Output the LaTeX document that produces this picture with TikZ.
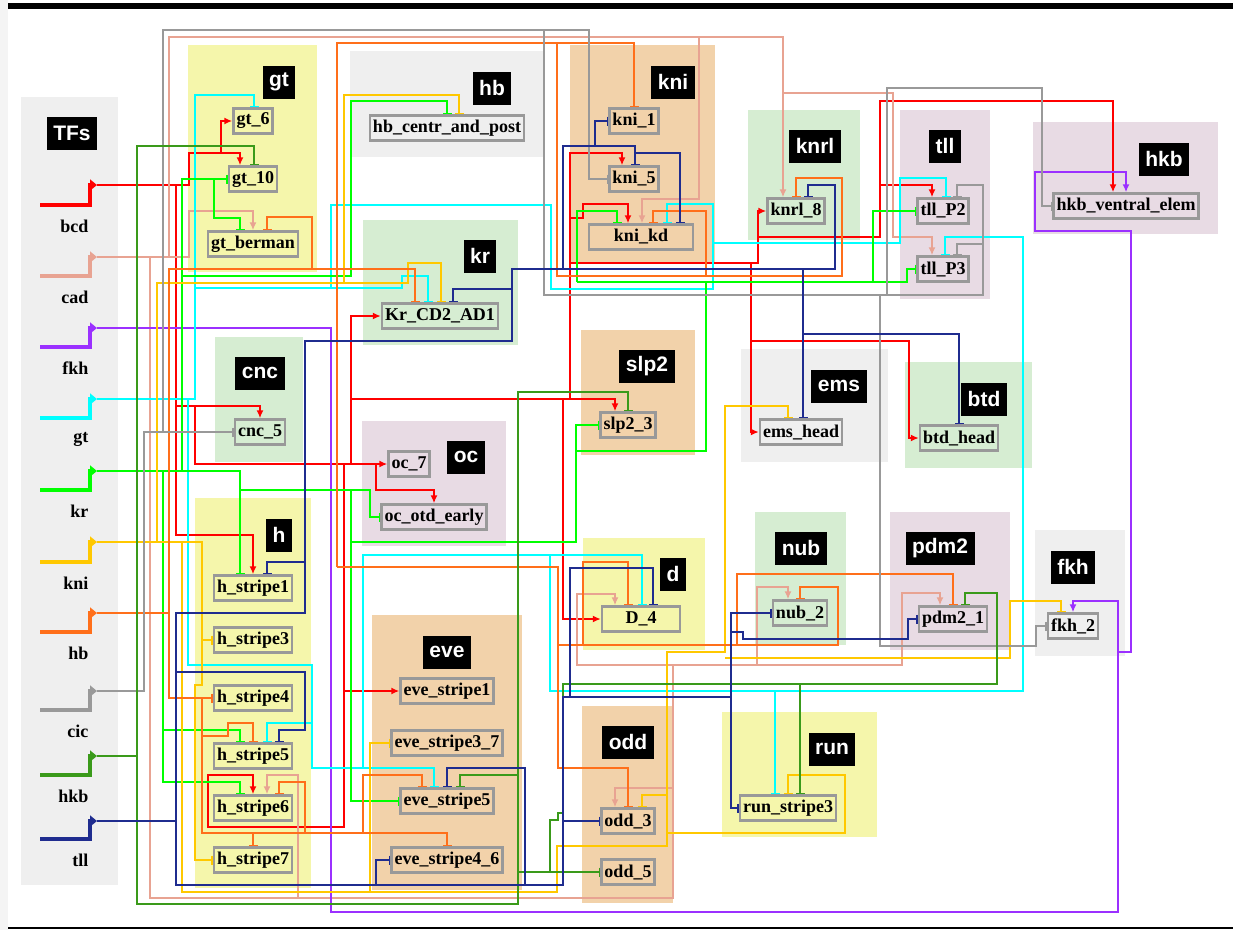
\documentclass[tikz,border=0pt]{standalone}
\usepackage{fontspec}
\setmainfont{Liberation Serif}
\newfontfamily\tagfont{Liberation Sans}
\usetikzlibrary{arrows.meta}
\definecolor{cbcd}{HTML}{FF0000}
\definecolor{ccad}{HTML}{E8A392}
\definecolor{cfkh}{HTML}{9B30FF}
\definecolor{cgt}{HTML}{00FFFF}
\definecolor{ckr}{HTML}{00FF00}
\definecolor{ckni}{HTML}{FFC800}
\definecolor{chb}{HTML}{FF6F1A}
\definecolor{ccic}{HTML}{999999}
\definecolor{chkb}{HTML}{3A9A1A}
\definecolor{ctll}{HTML}{1F2C8F}
\definecolor{boxgray}{HTML}{999999}
\definecolor{cyel}{HTML}{F5F6AB}
\definecolor{cpea}{HTML}{F2D2AA}
\definecolor{cgrn}{HTML}{D6EDD2}
\definecolor{cmau}{HTML}{E8DBE4}
\definecolor{cgry}{HTML}{EFEFEF}

\begin{document}
\begin{tikzpicture}[x=1pt, y=-1pt,
  wire/.style={line width=1.6pt},
  act/.style={wire, -{Latex[length=8pt,width=7pt]}},
  inh/.style={wire, -{Bar[width=9pt]}},
  gene/.style={draw=boxgray, line width=2.4pt, minimum height=25pt, inner xsep=3pt, inner ysep=0pt,
    font=\fontsize{18}{20}\selectfont\bfseries},
  tag/.style={fill=black, text=white, minimum height=33pt, inner xsep=6.5pt, inner ysep=0pt,
    font=\tagfont\fontsize{21}{24}\selectfont\bfseries},
  tfname/.style={anchor=east, font=\fontsize{18}{20}\selectfont\bfseries}]
  \useasboundingbox (0,0) rectangle (1233,930);

  % frame
  \fill[cgry!70] (0,0) rectangle (8,930);
  \fill[black] (8,3) rectangle (1233,9);
  \draw[line width=1.5pt] (8,928) -- (1233,928);

  % cluster backgrounds
  \fill[cgry] (21,97) rectangle (118,885);
  \fill[cyel] (188,45) rectangle (317,272);
  \fill[cgry] (350,51) rectangle (545,157);
  \fill[cpea] (570,45) rectangle (715,262);
  \fill[cgrn] (748,110) rectangle (860,240);
  \fill[cmau] (900,110) rectangle (990,299);
  \fill[cmau] (1033,122) rectangle (1218,234);
  \fill[cgrn] (363,220) rectangle (518,345);
  \fill[cgrn] (215,337) rectangle (303,462);
  \fill[cmau] (362,421) rectangle (506,546);
  \fill[cpea] (581,330) rectangle (695,455);
  \fill[cgry] (741,349) rectangle (888,462);
  \fill[cgrn] (905,362) rectangle (1032,468);
  \fill[cyel] (195,498) rectangle (311,888);
  \fill[cpea] (372,615) rectangle (522,890);
  \fill[cyel] (583,538) rectangle (705,650);
  \fill[cpea] (582,706) rectangle (673,903);
  \fill[cgrn] (755,512) rectangle (846,645);
  \fill[cmau] (890,512) rectangle (1010,650);
  \fill[cgry] (1035,530) rectangle (1125,656);
  \fill[cyel] (722,712) rectangle (877,837);

  % cluster tags
  \node[tag] (tagTFs) at (72,133) {TFs};
  \node[tag] (taggt) at (279,82) {gt};
  \node[tag] (taghb) at (492,88) {hb};
  \node[tag] (tagkni) at (673,82) {kni};
  \node[tag] (tagknrl) at (815,146) {knrl};
  \node[tag] (tagtll) at (945,146) {tll};
  \node[tag] (taghkb) at (1164,159) {hkb};
  \node[tag] (tagkr) at (480,256) {kr};
  \node[tag] (tagcnc) at (260,373) {cnc};
  \node[tag] (tagoc) at (466,457) {oc};
  \node[tag] (tagslp) at (647,366) {slp2};
  \node[tag] (tagems) at (839,386) {ems};
  \node[tag] (tagbtd) at (984,399) {btd};
  \node[tag] (tagh) at (279,535) {h};
  \node[tag] (tageve) at (447,652) {eve};
  \node[tag] (tagd) at (673,574) {d};
  \node[tag] (tagodd) at (628,742) {odd};
  \node[tag] (tagnub) at (801,548) {nub};
  \node[tag] (tagpdm) at (940,548) {pdm2};
  \node[tag] (tagfkh) at (1073,567) {fkh};
  \node[tag] (tagrun) at (832,749) {run};

  % transcription factor inputs
  \foreach \name/\yy/\ya/\col in {bcd/205/185/cbcd, cad/276/257/ccad, fkh/347/328/cfkh,
      gt/418/399/cgt, kr/490/471/ckr, kni/562/542/ckni, hb/632/613/chb,
      cic/710/691/ccic, hkb/775/756/chkb, tll/839/821/ctll} {
    \draw[\col, line width=3.5pt, -{Triangle[length=7pt,width=11pt]}]
      (40,\yy) -- (90,\yy) -- (90,\ya) -- (97,\ya);
    \coordinate (\name) at (97,\ya);
    \node[tfname] (\name lbl) at (92,\yy+21) {\name};
  }

  % target boxes
  \node[gene, fill=cyel] (gt_6) at (253,121) {gt\_6};
  \node[gene, fill=cyel] (gt_10) at (253,179) {gt\_10};
  \node[gene, fill=cyel] (gt_berman) at (253,244) {gt\_berman};
  \node[gene, fill=cgry] (hb_centr_and_post) at (447,128) {hb\_centr\_and\_post};
  \node[gene, fill=cpea] (kni_1) at (634,121) {kni\_1};
  \node[gene, fill=cpea] (kni_5) at (634,179) {kni\_5};
  \node[gene, fill=cpea, minimum width=104pt] (kni_kd) at (641,237) {kni\_kd};
  \node[gene, fill=cgrn] (knrl_8) at (796,211) {knrl\_8};
  \node[gene, fill=cmau] (tll_P2) at (943,211) {tll\_P2};
  \node[gene, fill=cmau] (tll_P3) at (943,269) {tll\_P3};
  \node[gene, fill=cmau] (hkb_ventral_elem) at (1126,206) {hkb\_ventral\_elem};
  \node[gene, fill=cgrn] (Kr_CD2_AD1) at (440,316) {Kr\_CD2\_AD1};
  \node[gene, fill=cgrn] (cnc_5) at (260,432) {cnc\_5};
  \node[gene, fill=cmau] (oc_7) at (409,464) {oc\_7};
  \node[gene, fill=cmau] (oc_otd_early) at (434,517) {oc\_otd\_early};
  \node[gene, fill=cpea] (slp2_3) at (628,425) {slp2\_3};
  \node[gene, fill=cgry] (ems_head) at (801,432) {ems\_head};
  \node[gene, fill=cgrn] (btd_head) at (959,438) {btd\_head};
  \node[gene, fill=cyel] (h_stripe1) at (253,588) {h\_stripe1};
  \node[gene, fill=cyel] (h_stripe3) at (253,640) {h\_stripe3};
  \node[gene, fill=cyel] (h_stripe4) at (253,698) {h\_stripe4};
  \node[gene, fill=cyel] (h_stripe5) at (253,756) {h\_stripe5};
  \node[gene, fill=cyel] (h_stripe6) at (253,808) {h\_stripe6};
  \node[gene, fill=cyel] (h_stripe7) at (253,860) {h\_stripe7};
  \node[gene, fill=cpea] (eve_stripe1) at (447,691) {eve\_stripe1};
  \node[gene, fill=cpea] (eve_stripe3_7) at (447,743) {eve\_stripe3\_7};
  \node[gene, fill=cpea] (eve_stripe5) at (447,801) {eve\_stripe5};
  \node[gene, fill=cpea] (eve_stripe4_6) at (447,860) {eve\_stripe4\_6};
  \node[gene, fill=cyel, minimum width=78pt] (D_4) at (641,619) {D\_4};
  \node[gene, fill=cpea] (odd_3) at (628,821) {odd\_3};
  \node[gene, fill=cpea] (odd_5) at (628,872) {odd\_5};
  \node[gene, fill=cgrn] (nub_2) at (800,613) {nub\_2};
  \node[gene, fill=cmau] (pdm2_1) at (953,619) {pdm2\_1};
  \node[gene, fill=cgry] (fkh_2) at (1073,626) {fkh\_2};
  \node[gene, fill=cyel] (run_stripe3) at (788,808) {run\_stripe3};

  % bcd
  \draw[act, cbcd] (bcd) -| (189,153) -| (240,0 |- gt_10.north);
  \draw[act, cbcd] (221,153) |- (gt_6.west);
  \draw[act, cbcd] (176,185) -- (176,535) -| (253,0 |- h_stripe1.north);
  \draw[act, cbcd] (176,406) -| (cnc_5.north);
  \draw[act, cbcd] (195,406) |- (oc_7.west);
  \draw[act, cbcd] (376,464) -- (376,490) -| (oc_otd_early.north);
  \draw[act, cbcd] (351,464) |- (Kr_CD2_AD1.west);
  \draw[act, cbcd] (351,399) -| (615,0 |- slp2_3.north);
  \draw[act, cbcd] (344,464) -- (344,827) -| (208,775) -| (253,0 |- h_stripe6.north);
  \draw[act, cbcd] (344,691) -- (eve_stripe1.west);
  \draw[act, cbcd] (563,399) |- (D_4.west);
  \draw[act, cbcd] (570,399) -- (570,153) -| (622,0 |- kni_5.north);
  \draw[act, cbcd] (570,218) -- (583,218) -- (583,204) -| (628,0 |- kni_kd.north);
  \draw[act, cbcd] (570,263) -- (758,263) -- (758,211) -- (knrl_8.west);
  \draw[act, cbcd] (758,237) -| (880,101) -| (1113,0 |- hkb_ventral_elem.north);
  \draw[act, cbcd] (880,185) -| (932,0 |- tll_P2.north);
  \draw[act, cbcd] (751,263) |- (ems_head.west);
  \draw[act, cbcd] (751,341) -- (909,341) |- (btd_head.west);

  % cad
  \draw[act, ccad] (cad) -| (189,211) -| (253,0 |- gt_berman.north);
  \draw[act, ccad] (169,257) -- (169,37) -- (783,37) -- (783,0 |- knrl_8.north);
  \draw[act, ccad] (699,37) -- (699,199) -| (642,0 |- kni_kd.north);
  \draw[act, ccad] (783,93) -| (893,237) -| (932,0 |- tll_P3.north);
  \draw[wire, ccad] (150,257) -- (150,898) -- (673,898) -- (673,665);
  \draw[act, ccad] (298,898) -- (298,775) -| (267,0 |- h_stripe6.north);
  \draw[act, ccad] (673,788) -| (615,0 |- odd_3.north);
  \draw[act, ccad] (673,665) -| (577,594) -| (615,0 |- D_4.north);
  \draw[act, ccad] (673,665) -| (902,593) -| (940,0 |- pdm2_1.north);
  \draw[act, ccad] (757,665) -- (757,587) -| (788,0 |- nub_2.north);

  % fkh
  \draw[act, cfkh] (fkh) -| (331,912) -| (1118,601) -| (1073,0 |- fkh_2.north);
  \draw[act, cfkh] (1118,652) -| (1131,231) -| (1035,172) -| (1126,0 |- hkb_ventral_elem.north);

  % gt
  \draw[inh, cgt] (gt) -| (195,95) -| (254,0 |- gt_6.north);
  \draw[inh, cgt] (188,399) -- (188,665) -| (312,768) -| (434,0 |- eve_stripe5.north);
  \draw[inh, cgt] (312,723) -| (267,0 |- h_stripe5.north);
  \draw[inh, cgt] (195,288) -- (402,288) -- (402,276) -| (428,0 |- Kr_CD2_AD1.north);
  \draw[inh, cgt] (331,288) -- (331,205) -| (551,289) -| (713,204) -| (667,0 |- kni_kd.north);
  \draw[inh, cgt] (713,243) -| (900,178) -| (946,0 |- tll_P2.north);
  \draw[inh, cgt] (363,768) -- (363,555) -| (642,0 |- D_4.north);
  \draw[inh, cgt] (550,555) -- (550,691) -| (1023,237) -| (945,0 |- tll_P3.north);
  \draw[inh, cgt] (775,691) -- (775,0 |- run_stripe3.north);

  % kr
  \draw[inh, ckr] (kr) -| (240,0 |- h_stripe1.north);
  \draw[inh, ckr] (182,471) -- (182,179) -- (gt_10.west);
  \draw[inh, ckr] (214,179) -- (214,218) -| (240,0 |- gt_berman.north);
  \draw[inh, ckr] (182,276) -| (351,101) -| (447,0 |- hb_centr_and_post.north);
  \draw[inh, ckr] (163,471) -- (163,782) -| (240,0 |- h_stripe6.north);
  \draw[inh, ckr] (163,730) -| (240,0 |- h_stripe5.north);
  \draw[inh, ckr] (240,490) -| (370,517) -- (oc_otd_early.west);
  \draw[inh, ckr] (351,490) |- (eve_stripe5.west);
  \draw[inh, ckr] (351,542) -| (576,425) -- (slp2_3.west);
  \draw[wire, ckr] (576,451) -- (706,451) -- (706,282);
  \draw[inh, ckr] (577,282) -- (577,211) -| (617,0 |- kni_kd.north);
  \draw[inh, ckr] (577,282) -- (907,282) |- (tll_P3.west);
  \draw[inh, ckr] (873,282) |- (tll_P2.west);

  % kni
  \draw[inh, ckni] (kni) -| (202,685) -| (195,860) -- (h_stripe7.west);
  \draw[inh, ckni] (202,640) -- (h_stripe3.west);
  \draw[inh, ckni] (157,542) -- (157,283) -| (344,95) -| (459,0 |- hb_centr_and_post.north);
  \draw[inh, ckni] (344,283) -| (408,263) -| (441,0 |- Kr_CD2_AD1.north);
  \draw[inh, ckni] (182,542) -- (182,892) -| (557,846) -| (667,652) -| (725,406) -| (788,0 |- ems_head.north);
  \draw[inh, ckni] (370,892) |- (eve_stripe3_7.west);
  \draw[inh, ckni] (667,833) -| (845,775) -| (788,0 |- run_stripe3.north);
  \draw[inh, ckni] (667,795) -| (642,0 |- odd_3.north);
  \draw[inh, ckni] (725,658) -| (1010,601) -| (1061,0 |- fkh_2.north);

  % hb
  \draw[inh, chb] (hb) -| (169,698) -- (h_stripe4.west);
  \draw[inh, chb] (169,613) -- (169,269) -| (415,0 |- Kr_CD2_AD1.north);
  \draw[inh, chb] (312,269) -- (312,217) -| (267,0 |- gt_berman.north);
  \draw[inh, chb] (337,567) -- (337,43) -| (634,0 |- kni_1.north);
  \draw[inh, chb] (557,43) -- (557,276) -| (706,211) -| (653,0 |- kni_kd.north);
  \draw[inh, chb] (706,276) -| (842,178) -| (796,0 |- knrl_8.north);
  \draw[inh, chb] (202,698) -- (202,833) -| (253,0 |- h_stripe7.north);
  \draw[inh, chb] (202,736) -| (228,723) -| (253,0 |- h_stripe5.north);
  \draw[inh, chb] (305,833) -- (305,782) -| (279,0 |- h_stripe6.north);
  \draw[inh, chb] (253,833) -| (447,0 |- eve_stripe4_6.north);
  \draw[inh, chb] (363,833) -- (363,775) -| (422,0 |- eve_stripe5.north);
  \draw[inh, chb] (337,567) -- (558,567) -- (558,768) -| (628,0 |- odd_3.north);
  \draw[inh, chb] (558,645) -| (583,562) -| (628,0 |- D_4.north);
  \draw[inh, chb] (558,645) -| (838,587) -| (800,0 |- nub_2.north);
  \draw[inh, chb] (737,645) -- (737,574) -| (953,0 |- pdm2_1.north);

  % cic
  \draw[inh, ccic] (cic) -| (144,432) -- (cnc_5.west);
  \draw[inh, ccic] (144,432) -| (163,30) -| (589,179) -- (kni_5.west);
  \draw[inh, ccic] (544,30) -- (544,295) -| (887,88) -| (1042,206) -- (hkb_ventral_elem.west);
  \draw[inh, ccic] (887,295) -| (983,185) -| (957,0 |- tll_P2.north);
  \draw[inh, ccic] (983,244) -| (957,0 |- tll_P3.north);
  \draw[inh, ccic] (880,295) -- (880,646) -| (1036,626) -- (fkh_2.west);

  % hkb
  \draw[inh, chkb] (hkb) -| (137,146) -| (254,0 |- gt_10.north);
  \draw[inh, chkb] (137,756) -- (137,904) -| (518,392) -| (628,0 |- slp2_3.north);
  \draw[inh, chkb] (518,775) -| (460,0 |- eve_stripe5.north);
  \draw[inh, chkb] (518,872) -- (odd_5.west);
  \draw[inh, chkb] (550,872) -- (550,820) -- (558,820) -- (558,813) -- (563,813) -- (563,684) -| (997,593) -| (965,0 |- pdm2_1.north);
  \draw[inh, chkb] (800,684) -- (800,0 |- run_stripe3.north);

  % tll
  \draw[inh, ctll] (tll) -| (176,613) -| (305,562) -| (267,0 |- h_stripe1.north);
  \draw[inh, ctll] (305,562) -- (305,341) -- (512,341) -- (512,269) -- (835,269) -- (835,185) -| (808,0 |- knrl_8.north);
  \draw[inh, ctll] (512,289) -| (453,0 |- Kr_CD2_AD1.north);
  \draw[inh, ctll] (563,269) -- (563,146) -| (635,0 |- kni_5.north);
  \draw[inh, ctll] (595,146) |- (kni_1.west);
  \draw[inh, ctll] (635,153) -| (680,0 |- kni_kd.north);
  \draw[inh, ctll] (803,269) -- (803,0 |- ems_head.north);
  \draw[inh, ctll] (803,334) -| (959,0 |- btd_head.north);
  \draw[inh, ctll] (176,672) -| (305,730) -| (279,0 |- h_stripe5.north);
  \draw[inh, ctll] (176,613) -- (176,885) -| (563,821) -- (odd_3.west);
  \draw[inh, ctll] (525,885) -- (525,768) -| (447,0 |- eve_stripe5.north);
  \draw[inh, ctll] (376,885) |- (eve_stripe4_6.west);
  \draw[wire, ctll] (563,821) -- (563,697) -- (731,697);
  \draw[inh, ctll] (570,697) -- (570,568) -| (653,0 |- D_4.north);
  \draw[inh, ctll] (731,697) |- (nub_2.west);
  \draw[inh, ctll] (731,697) |- (run_stripe3.west);
  \draw[inh, ctll] (731,632) -- (743,632) -- (743,639) -| (908,619) -- (pdm2_1.west);
\end{tikzpicture}
\end{document}
